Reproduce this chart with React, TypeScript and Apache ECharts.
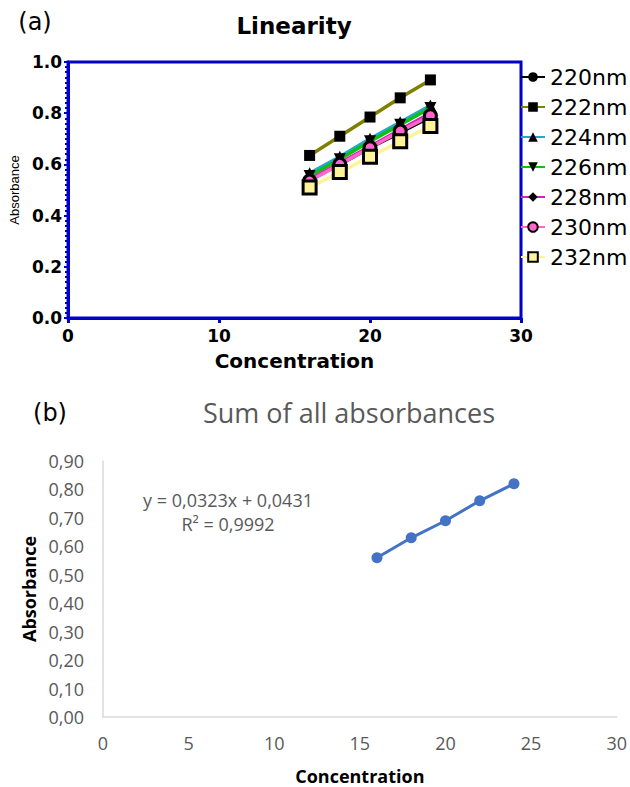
import React, { useEffect, useRef } from "react";
import * as echarts from "echarts";

const concentrations = [16, 18, 20, 22, 24];
const seriesNames = ["220nm", "222nm", "224nm", "226nm", "228nm", "230nm", "232nm"];
const abs220 = [0.54, 0.6, 0.665, 0.725, 0.785];
const abs222 = [0.635, 0.71, 0.785, 0.86, 0.93];
const abs224 = [0.565, 0.63, 0.7, 0.765, 0.83];
const abs226 = [0.555, 0.62, 0.69, 0.755, 0.82];
const abs228 = [0.54, 0.605, 0.67, 0.735, 0.8];
const abs230 = [0.535, 0.6, 0.665, 0.73, 0.79];
const abs232 = [0.51, 0.57, 0.63, 0.69, 0.75];
const sumAbsorbance = [0.56, 0.63, 0.69, 0.76, 0.82];
const equationText = "y = 0,0323x + 0,0431";
const r2Text = "R² = 0,9992";

const topData = [abs220, abs222, abs224, abs226, abs228, abs230, abs232];
const lineColors = ["#000000", "#808000", "#22A8C8", "#10C010", "#D81FB8", "#FF66CC", "#FFF39A"];
const markerFills = ["#000", "#000", "#000", "#000", "#000", "#FF66CC", "#FFF39A"];
const symbols = [
  "circle",
  "rect",
  "triangle",
  "path://M0,0 L10,0 L5,9 Z",
  "diamond",
  "circle",
  "rect",
];
const symbolSizes = [11, 11, 12, 12, 12, 12, 13];

const BLUE = "#0000C8";
const ARIAL = "'Liberation Sans', Arial, sans-serif";
const DEJAVU = "'DejaVu Sans', 'Liberation Sans', sans-serif";
const OPEN = "'Open Sans', 'Noto Sans', sans-serif";

export default function App() {
  const ref = useRef<HTMLDivElement>(null);
  useEffect(() => {
    if (!ref.current) return;
    const chart = echarts.init(ref.current, undefined, { renderer: "svg" });
    const pair = (ys: number[]) => concentrations.map((x, i) => [x, ys[i]]);
    const topSeries = seriesNames.map((name, i) => {
      const hollow = i >= 5;
      return {
        name,
        type: "line",
        xAxisIndex: 0,
        yAxisIndex: 0,
        data: pair(topData[i]),
        symbol: symbols[i],
        symbolSize: symbolSizes[i],
        showSymbol: true,
        lineStyle: { color: lineColors[i], width: 3.5 },
        itemStyle: {
          color: markerFills[i],
          borderColor: "#000",
          borderWidth: hollow ? 3 : 0,
        },
        z: 3 + i,
      };
    });
    const center = { textAlign: "center", textVerticalAlign: "middle", align: "center", verticalAlign: "middle" };
    const option: any = {
      animation: false,
      backgroundColor: "#ffffff",
      grid: [
        { left: 63, top: 62, width: 458, height: 256, show: true, borderColor: BLUE, borderWidth: 3, backgroundColor: "transparent" },
        { left: 103, top: 461, width: 518, height: 256 },
      ],
      legend: {
        data: seriesNames,
        orient: "vertical",
        left: 520,
        top: 66,
        padding: 0,
        itemWidth: 24,
        itemHeight: 12,
        itemGap: 8,
        textStyle: { fontFamily: DEJAVU, fontSize: 22, color: "#000" },
      },
      xAxis: [
        {
          gridIndex: 0,
          type: "value",
          min: 0,
          max: 30,
          interval: 10,
          axisLine: { show: true, onZero: false, lineStyle: { color: BLUE, width: 3 } },
          axisTick: { show: true, length: 5, lineStyle: { color: BLUE, width: 3 } },
          axisLabel: { color: "#000", fontFamily: DEJAVU, fontWeight: "bold", fontSize: 17, margin: 9 },
          splitLine: { show: false },
          name: "Concentration",
          nameLocation: "middle",
          nameGap: 33,
          nameTextStyle: { color: "#000", fontFamily: DEJAVU, fontWeight: "bold", fontSize: 20 },
        },
        {
          gridIndex: 1,
          type: "value",
          min: 0,
          max: 30,
          interval: 5,
          axisLine: { show: true, onZero: false, lineStyle: { color: "#D9D9D9", width: 1.5 } },
          axisTick: { show: false },
          axisLabel: { color: "#595959", fontFamily: OPEN, fontSize: 18, margin: 17 },
          splitLine: { show: false },
          name: "Concentration",
          nameLocation: "middle",
          nameGap: 50,
          nameTextStyle: { color: "#000", fontFamily: OPEN, fontWeight: "bold", fontSize: 18 },
        },
      ],
      yAxis: [
        {
          gridIndex: 0,
          type: "value",
          min: 0,
          max: 1,
          interval: 0.2,
          axisLine: { show: true, onZero: false, lineStyle: { color: BLUE, width: 3 } },
          axisTick: { show: true, length: 4, lineStyle: { color: BLUE, width: 2 } },
          minorTick: { show: true, splitNumber: 10, length: 3, lineStyle: { color: BLUE, width: 2 } },
          axisLabel: {
            color: "#000",
            fontFamily: DEJAVU,
            fontWeight: "bold",
            fontSize: 17,
            margin: 6,
            formatter: (v: number) => v.toFixed(1),
          },
          splitLine: { show: false },
          name: "Absorbance",
          nameLocation: "middle",
          nameGap: 43,
          nameTextStyle: { color: "#000", fontFamily: ARIAL, fontSize: 13 },
        },
        {
          gridIndex: 1,
          type: "value",
          min: 0,
          max: 0.9,
          interval: 0.1,
          axisLine: { show: true, onZero: false, lineStyle: { color: "#D9D9D9", width: 1.5 } },
          axisTick: { show: false },
          axisLabel: {
            color: "#595959",
            fontFamily: OPEN,
            fontSize: 18,
            margin: 19,
            formatter: (v: number) => v.toFixed(2).replace(".", ","),
          },
          splitLine: { show: false },
          name: "Absorbance",
          nameLocation: "middle",
          nameGap: 65,
          nameTextStyle: { color: "#000", fontFamily: OPEN, fontWeight: "bold", fontSize: 18 },
        },
      ],
      graphic: [
        { type: "text", x: 35, y: 22, style: { text: "(a)", font: `24px ${DEJAVU}`, fill: "#000", ...center } },
        { type: "text", x: 294, y: 26, style: { text: "Linearity", font: `bold 23px ${DEJAVU}`, fill: "#000", ...center } },
        { type: "text", x: 50, y: 413, style: { text: "(b)", font: `24px ${DEJAVU}`, fill: "#000", ...center } },
        { type: "text", x: 349, y: 412, style: { text: "Sum of all absorbances", font: `27px ${OPEN}`, fill: "#595959", ...center } },
        { type: "text", x: 228, y: 500, style: { text: equationText, font: `18px ${OPEN}`, fill: "#595959", ...center } },
        { type: "text", x: 228, y: 524, style: { text: r2Text, font: `18px ${OPEN}`, fill: "#595959", ...center } },
      ],
      series: [
        ...topSeries,
        {
          name: "Sum",
          type: "line",
          xAxisIndex: 1,
          yAxisIndex: 1,
          data: pair(sumAbsorbance),
          symbol: "circle",
          symbolSize: 11,
          lineStyle: { color: "#4472C4", width: 3 },
          itemStyle: { color: "#4472C4" },
        },
      ],
    };
    chart.setOption(option);
    return () => chart.dispose();
  }, []);
  return (
    <div
      ref={ref}
      style={{ position: "fixed", left: 0, top: 0, width: 630, height: 787, background: "#fff" }}
    />
  );
}
